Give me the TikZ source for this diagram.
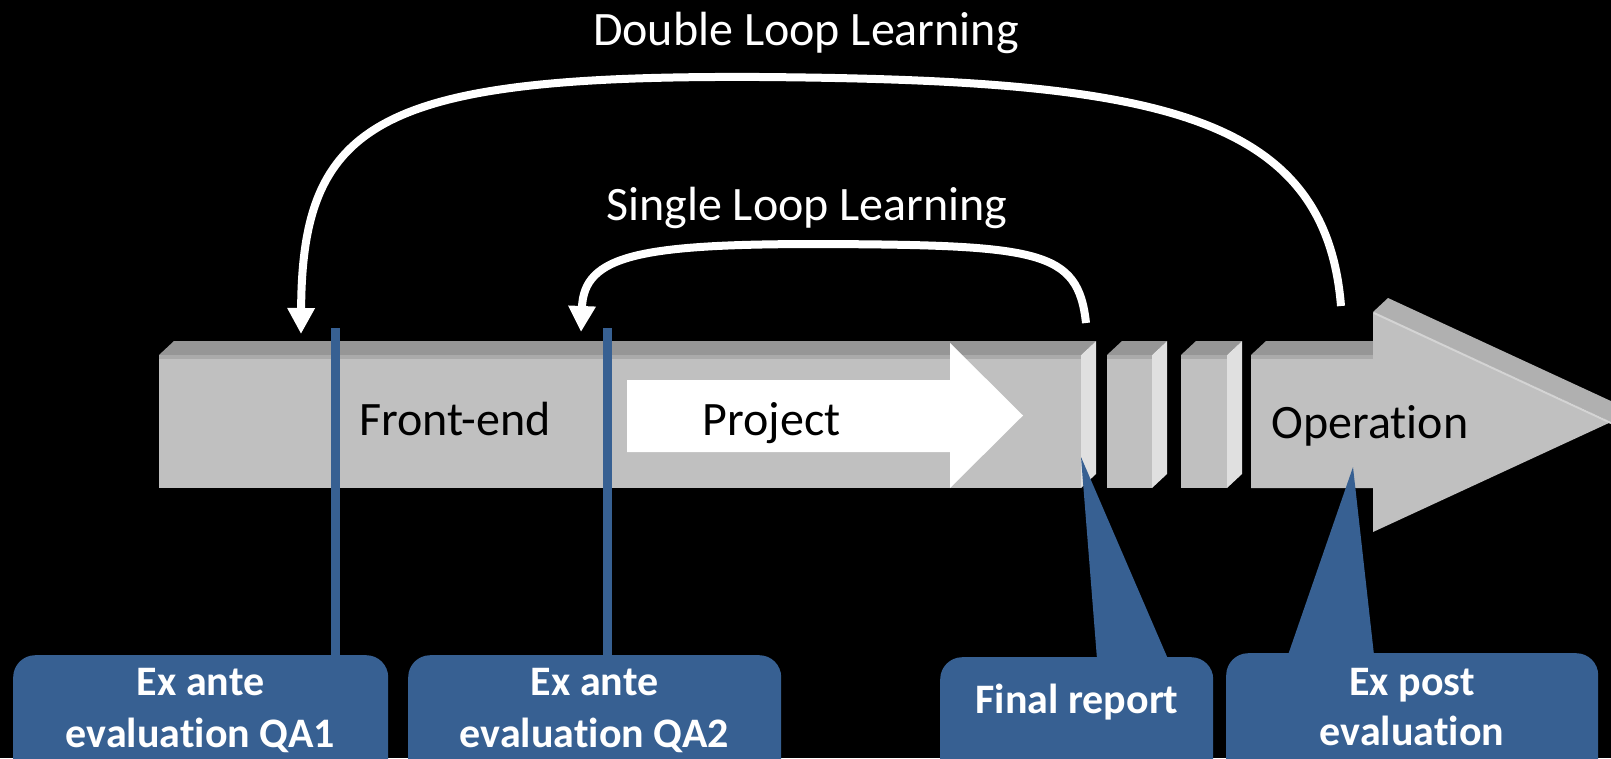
\documentclass[tikz,border=0pt]{standalone}
\usepackage{fontspec}
\setmainfont{Carlito}[Ligatures=NoCommon]
\usetikzlibrary{arrows.meta,calc}
\definecolor{qablue}{HTML}{376092}
\definecolor{barfront}{HTML}{C0C0C0}
\definecolor{bartop}{HTML}{969696}
\definecolor{barrim}{HTML}{AAAAAA}
\definecolor{barside}{HTML}{E0E0E0}
\definecolor{headrim}{HTML}{B0B0B0}
\definecolor{headglint}{HTML}{D4D4D4}
\tikzset{
  barlabel/.style={font=\fontsize{48}{58}\selectfont, text=black, anchor=base, inner sep=0pt},
  looplabel/.style={font=\fontsize{48}{58}\selectfont, text=white, anchor=base, inner sep=0pt},
  boxlabel/.style={font=\bfseries\fontsize{42}{50}\selectfont, text=white, anchor=base, inner sep=0pt},
  labelbox/.style={fill=qablue, rounded corners=22pt, anchor=north west, inner sep=0pt, minimum height=170pt},
  loopline/.style={draw=white, line width=8pt, -{Triangle[width=26pt,length=26pt]}},
  qaline/.style={draw=qablue, line width=9pt},
  frontface/.style={fill=barfront},
  topface/.style={fill=bartop},
  sideface/.style={fill=barside},
}
\begin{document}
\begin{tikzpicture}[x=1pt, y=-1pt]
\useasboundingbox (0,0) rectangle (1611,758);
\fill[black] (0,0) rectangle (1611,758);
\clip (0,0) rectangle (1611,758);

% first segment: front-end and project
\fill[topface] (159,355) -- (174,341) -- (1096,341) -- (1081,355) -- cycle;
\fill[sideface] (1081,355) -- (1096,341) -- (1096,474) -- (1081,488) -- cycle;
\fill[frontface] (159,355) rectangle (1081,488);
\fill[barrim] (159,355) rectangle (1081,359);

% two short segments
\foreach \xa/\xb in {1107/1152, 1181/1227} {
  \fill[topface] (\xa,355) -- (\xa+15,341) -- (\xb+15,341) -- (\xb,355) -- cycle;
  \fill[sideface] (\xb,355) -- (\xb+15,341) -- (\xb+15,474) -- (\xb,488) -- cycle;
  \fill[frontface] (\xa,355) rectangle (\xb,488);
  \fill[barrim] (\xa,355) rectangle (\xb,359);
}

% operation arrow
\fill[topface] (1251,355) -- (1266,341) -- (1373,341) -- (1373,355) -- cycle;
\fill[headrim] (1373,312) -- (1388,298) -- (1626,408) -- (1611,422) -- cycle;
\fill[frontface] (1251,355) -- (1373,355) -- (1373,312) -- (1611,422)
  -- (1373,532) -- (1373,488) -- (1251,488) -- cycle;
\fill[barrim] (1251,355) rectangle (1373,359);
\draw[headglint, line width=2pt] (1374,313) -- (1611,423);

% project arrow
\fill[white] (627,380) -- (950,380) -- (950,343) -- (1023,415.5)
  -- (950,488) -- (950,452) -- (627,452) -- cycle;

% phase labels
\node[barlabel] (frontend) at (455,435) {Front-end};
\node[barlabel] (project) at (771.5,435) {Project};
\node[barlabel] (operation) at (1370,438) {Operation};

% learning loops
\node[looplabel] (dll) at (806,45) {Double Loop Learning};
\node[looplabel] (sll) at (807,220) {Single Loop Learning};
\coordinate (dstart) at (1341,306);
\coordinate (dtop) at (760,77);
\coordinate (dend) at (301,334);
\draw[loopline] (dstart) .. controls (1325,110) and (1150,80) .. (dtop)
  .. controls (380,75) and (302,120) .. (dend);
\coordinate (sstart) at (1086,323);
\coordinate (stop) at (820,244);
\coordinate (send) at (581,332);
\draw[loopline] (sstart) .. controls (1078,250) and (1040,245) .. (stop)
  .. controls (640,244) and (584,255) .. (send);

% evaluation boxes
\node[labelbox, minimum width=375pt] (qa1) at (13,655) {};
\node[labelbox, minimum width=373pt] (qa2) at (408,655) {};
\node[labelbox, minimum width=273pt] (fr) at (940,657) {};
\node[labelbox, minimum width=372pt] (ep) at (1226,653) {};

% milestone markers
\coordinate (q1top) at (335.5,328);
\coordinate (q2top) at (607,328);
\draw[qaline] (q1top) -- (q1top |- qa1.north);
\draw[qaline] (q2top) -- (q2top |- qa2.north);

% callout pointers
\coordinate (frtip) at (1081,457);
\coordinate (eptip) at (1353,467);
\fill[qablue] ($(fr.north west)+(157,2)$) -- (frtip) -- ($(fr.north west)+(228,2)$) -- cycle;
\fill[qablue] ($(ep.north west)+(62,2)$) -- (eptip) -- ($(ep.north west)+(148,2)$) -- cycle;

% box texts
\node[boxlabel] (qa1a) at (200.5,695) {Ex ante};
\node[boxlabel] (qa1b) at (200.5,747) {evaluation QA1};
\node[boxlabel] (qa2a) at (594.5,695) {Ex ante};
\node[boxlabel] (qa2b) at (594.5,747) {evaluation QA2};
\node[boxlabel] (frt) at (1077,713) {Final report};
\node[boxlabel] (epa) at (1412,695) {Ex post};
\node[boxlabel] (epb) at (1412,745) {evaluation};
\end{tikzpicture}
\end{document}
